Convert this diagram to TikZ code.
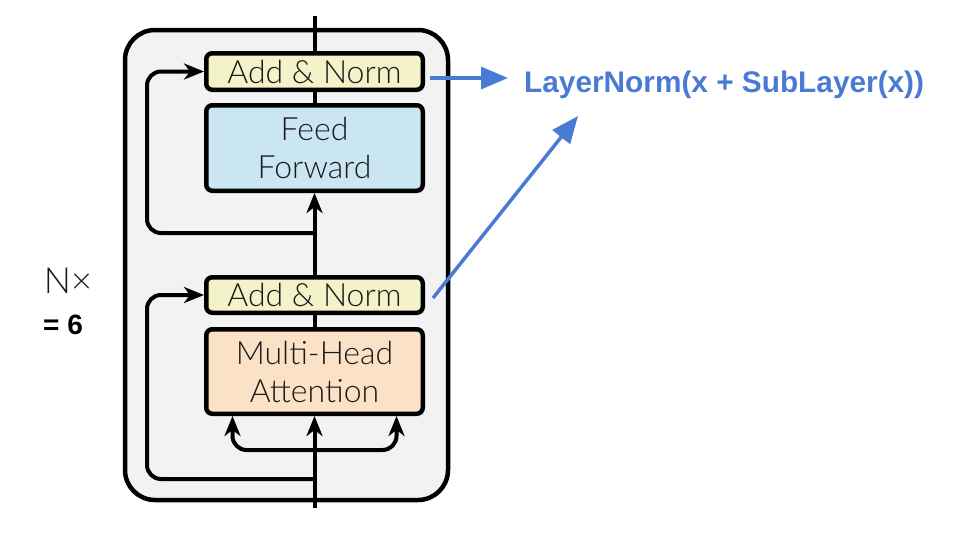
\documentclass[tikz,border=0pt]{standalone}
\usepackage{fontspec}
\setmainfont{Liberation Sans}
\newfontfamily\lightfont{Lato Light}
\usetikzlibrary{arrows.meta,calc}
\definecolor{outerfill}{HTML}{F2F2F2}
\definecolor{anfill}{HTML}{F3F2C8}
\definecolor{fffill}{HTML}{CBE6F3}
\definecolor{mhafill}{HTML}{FBE1C6}
\definecolor{bluetxt}{HTML}{4A7BD4}
\definecolor{txtgray}{HTML}{1A1A1A}
\tikzset{
  blk/.style={draw=black, line width=4.5pt, rounded corners=6pt, text=txtgray,
    minimum width=216.5pt, align=center, inner sep=0pt,
    font=\lightfont\fontsize{32}{38}\selectfont},
  conn/.style={line width=4pt, draw=black},
  arr/.style={conn, -{Stealth[length=20pt,width=16pt,inset=6pt]}},
  barr/.style={draw=bluetxt, line width=3.5pt, -{Triangle[length=27pt,width=22pt]}},
}
\begin{document}
\begin{tikzpicture}[x=1pt,y=-1pt]
\useasboundingbox (0,0) rectangle (972,538);
\draw[fill=outerfill, line width=4.5pt, rounded corners=30pt] (125,30) rectangle (448,500);
\node[blk, fill=anfill, minimum height=36.5pt] (an2) at (314.5,71.5) {Add \& Norm};
\node[blk, fill=fffill, minimum height=85.5pt] (ff) at (314.5,148) {Feed\\Forward};
\node[blk, fill=anfill, minimum height=35.5pt] (an1) at (314.5,295) {Add \& Norm};
\node[blk, fill=mhafill, minimum height=84.5pt] (mha) at (314.5,371.5) {Multi-Head\\Attention};
\coordinate (top) at (314.5,16);
\coordinate (bot) at (314.5,508);
\coordinate (r2) at (314.5,233);
\coordinate (l2) at (147,71.5);
\coordinate (r1) at (314.5,479);
\coordinate (l1) at (147,295);
\coordinate (sp) at (314.5,450);
% main vertical path
\draw[conn] (top) -- (an2.north);
\draw[conn] (an2.south) -- (ff.north);
\draw[arr] (an1.north) -- (ff.south);
\draw[conn] (an1.south) -- (mha.north);
\draw[arr] (bot) -- (mha.south);
% residual connections
\draw[arr, rounded corners=14pt] (r2) -| (l2) -- (an2.west);
\draw[arr, rounded corners=14pt] (r1) -| (l1) -- (an1.west);
% attention inputs
\draw[arr, rounded corners=14pt] (sp) -| ([xshift=-82pt]mha.south);
\draw[arr, rounded corners=14pt] (sp) -| ([xshift=82pt]mha.south);
% labels
\node[font=\lightfont\fontsize{36}{36}\selectfont, text=txtgray] (nx) at (68,281) {N×};
\node[font=\bfseries\fontsize{28}{28}\selectfont] (n6) at (63,325) {= 6};
\node[font=\bfseries\fontsize{29.8}{30}\selectfont, text=bluetxt, anchor=base west, inner sep=0pt] (ln) at (524,92) {LayerNorm(x + SubLayer(x))};
\draw[barr] ([shift={(5,6.5)}]an2.east) -- ([shift={(-16,-14)}]ln.base west);
\draw[barr] ([shift={(8,3)}]an1.east) -- ([shift={(54,24)}]ln.base west);
\end{tikzpicture}
\end{document}
